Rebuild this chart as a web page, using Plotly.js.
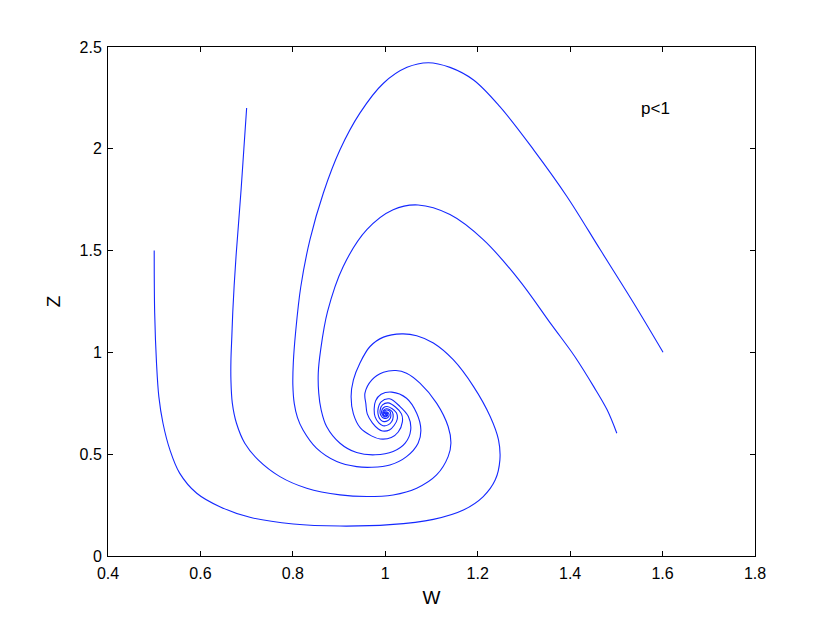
<!DOCTYPE html>
<html>
<head>
<meta charset="utf-8">
<script src="https://cdn.plot.ly/plotly-3.0.1.min.js"></script>
<style>html,body{margin:0;padding:0;background:#fff;}#plot{width:834px;height:627px;}</style>
</head>
<body>
<div id="plot"></div>
<script>
// Trajectory A: starts at (0.5, 1.5)
const aW = [0.500,0.501,0.505,0.510,0.519,0.534,0.555,0.592,0.642,0.707,0.801,0.902,1.010,1.104,1.169,1.212,1.238,1.248,1.245,1.227,1.191,1.147,1.104,1.068,1.036,0.996,0.967,0.945,0.931,0.926,
            0.931,0.946,0.970,0.989,1.013,1.028,1.037,1.035,1.022,1.006,0.994,0.989,0.990,0.998,1.006,1.008,1.002,0.998,1.000];
const aZ = [1.501,1.193,0.947,0.783,0.652,0.521,0.407,0.308,0.242,0.190,0.157,0.147,0.154,0.180,0.226,0.292,0.374,0.472,0.570,0.685,0.832,0.964,1.046,1.082,1.091,1.075,1.029,0.947,0.865,0.782,
            0.698,0.629,0.590,0.575,0.582,0.609,0.659,0.698,0.732,0.752,0.742,0.718,0.693,0.676,0.681,0.698,0.708,0.703,0.698];
// Trajectory B: starts at (0.7, 2.2)
const bW = [0.700,0.694,0.688,0.682,0.677,0.673,0.670,0.668,0.666,0.666,0.669,0.678,0.696,0.725,0.772,0.830,0.902,0.960,1.017,1.068,1.111,1.136,1.142,1.136,1.111,1.075,1.046,1.023,0.996,0.971,0.956,
            0.958,0.961,0.972,0.985,0.994,1.009,1.019,1.026,1.024,1.015,1.004,0.996,0.992,0.994,0.999,1.004,1.005,1.001,1.000];
const bZ = [2.200,2.000,1.800,1.620,1.470,1.330,1.200,1.080,0.960,0.865,0.751,0.652,0.554,0.472,0.390,0.333,0.300,0.292,0.300,0.333,0.398,0.488,0.554,0.636,0.751,0.849,0.898,0.911,0.902,0.865,0.800,
            0.747,0.698,0.654,0.624,0.614,0.619,0.641,0.673,0.703,0.723,0.734,0.728,0.710,0.693,0.683,0.687,0.698,0.704,0.698];
// Trajectory C: starts at (1.6, 1.0)
const cW = [1.601,1.537,1.465,1.393,1.321,1.248,1.191,1.140,1.093,1.047,0.996,0.945,0.902,0.866,0.837,0.817,0.806,0.801,0.800,0.803,0.810,0.822,0.851,0.895,0.938,0.971,1.010,1.046,1.071,1.077,1.068,1.046,1.014,
            0.991,0.979,0.976,0.978,0.986,0.995,1.006,1.014,1.017,1.015,1.009,1.002,0.996,0.995,0.998,1.003,1.003,1.000];
const cZ = [1.001,1.244,1.505,1.766,1.995,2.207,2.338,2.400,2.423,2.400,2.322,2.175,1.995,1.783,1.554,1.320,1.100,0.950,0.840,0.750,0.680,0.619,0.530,0.464,0.439,0.436,0.447,0.488,0.554,0.619,0.701,0.775,0.805,
            0.794,0.762,0.723,0.683,0.654,0.640,0.644,0.661,0.683,0.708,0.720,0.723,0.715,0.698,0.688,0.691,0.700,0.698];
// Trajectory D: starts at (1.5, 0.6)
const dW = [1.501,1.480,1.451,1.410,1.360,1.288,1.212,1.140,1.071,1.017,0.960,0.909,0.875,0.860,0.855,0.856,0.861,0.873,0.902,0.938,0.978,1.017,1.043,1.055,1.050,1.032,1.009,
            0.991,0.984,0.986,0.991,0.997,1.005,1.011,1.012,1.010,1.004,0.999,0.996,0.996,1.000,1.002,1.000];
const dZ = [0.603,0.718,0.832,0.980,1.135,1.360,1.554,1.677,1.724,1.701,1.603,1.422,1.200,1.010,0.900,0.800,0.720,0.636,0.554,0.508,0.497,0.513,0.554,0.619,0.685,0.734,0.772,
            0.757,0.715,0.683,0.666,0.660,0.664,0.678,0.693,0.710,0.717,0.715,0.705,0.694,0.692,0.697,0.698];

const xTicks = [0.4,0.6,0.8,1,1.2,1.4,1.6,1.8];
const yTicks = [0,0.5,1,1.5,2,2.5];
const noteText = 'p&lt;1';

const lineStyle = {color:'rgb(20,40,255)', width:1.1, shape:'spline', smoothing:1};
const traces = [[aW,aZ],[bW,bZ],[cW,cZ],[dW,dZ]].map(p => ({
  x:p[0], y:p[1], type:'scatter', mode:'lines', line:lineStyle, hoverinfo:'skip'
}));

const font = {family:'"Liberation Sans", Arial, Helvetica, sans-serif', color:'#000'};
const axisBase = {
  showline:true, mirror:'ticks', linecolor:'#000', linewidth:1,
  ticks:'inside', ticklen:5, tickcolor:'#000', tickwidth:1,
  showgrid:false, zeroline:false, tickfont:Object.assign({size:16}, font)
};

const layout = {
  width:834, height:627,
  margin:{l:108, r:79, t:47, b:71},
  paper_bgcolor:'#fff', plot_bgcolor:'#fff',
  showlegend:false,
  font:font,
  xaxis:Object.assign({}, axisBase, {
    range:[0.4,1.8], tickvals:xTicks, ticktext:xTicks.map(String),
    ticklabelstandoff:3,
    title:{text:'W', font:Object.assign({size:19}, font), standoff:9}
  }),
  yaxis:Object.assign({}, axisBase, {
    range:[0,2.5], tickvals:yTicks, ticktext:yTicks.map(String),
    ticklabelstandoff:2,
    title:{text:'Z', font:Object.assign({size:19}, font), standoff:13}
  }),
  annotations:[{
    x:1.55, y:2.2, xref:'x', yref:'y', text:noteText, showarrow:false,
    xanchor:'left', yanchor:'middle', font:Object.assign({size:17}, font)
  }]
};

Plotly.newPlot('plot', traces, layout, {staticPlot:true, displayModeBar:false});
</script>
</body>
</html>
